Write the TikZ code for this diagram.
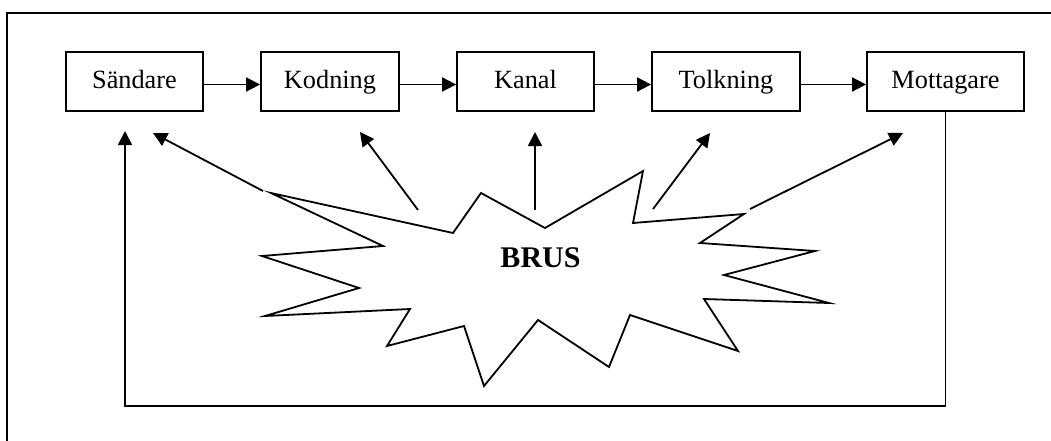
\documentclass[tikz,border=0pt]{standalone}
\usepackage{fontspec}
\setmainfont{Liberation Serif}
\usetikzlibrary{arrows.meta}

\tikzset{
  stage/.style={draw, line width=1.8pt, rectangle, minimum height=59pt, inner sep=0pt,
    text height=20pt, text depth=5pt, font=\fontsize{26.3}{30}\selectfont},
  link/.style={line width=1.8pt, -{Triangle[length=14pt,width=14pt]}},
  burst/.style={line width=1.8pt, line join=miter},
  frame/.style={line width=1.8pt}
}

\begin{document}
\begin{tikzpicture}[x=1pt,y=-1pt]
\useasboundingbox (0,0) rectangle (1051,441);

% outer frame: top and left edges only
\draw[frame] (1051,13) -- (7,13) -- (7,441);

% the chain of stages
\node[stage, minimum width=137pt] (snd) at (134.5,81.5) {Sändare};
\node[stage, minimum width=138pt] (kod) at (330,81.5) {Kodning};
\node[stage, minimum width=137pt] (kan) at (525.5,81.5) {Kanal};
\node[stage, minimum width=148pt] (tol) at (726,81.5) {Tolkning};
\node[stage, minimum width=157pt] (mot) at (945.5,81.5) {Mottagare};

\foreach \a/\b in {snd/kod, kod/kan, kan/tol, tol/mot}
  \draw[link] ([yshift=-3pt]\a.east) -- ([yshift=-3pt]\b.west);

% the noise burst
\draw[burst] (271,193) -- (453,233) -- (481,193) -- (545,228) -- (643,171)
  -- (633,223) -- (744,214) -- (700,243) -- (815,251) -- (724,275)
  -- (829,303) -- (704,299) -- (738,351) -- (630,315) -- (609,367)
  -- (538,320) -- (484,386) -- (464,326) -- (387,346) -- (410,309)
  -- (265,316) -- (359,288) -- (262,256) -- (383,246) -- cycle;
\node[font=\fontsize{30}{34}\bfseries\selectfont] (brus) at (540.5,258) {BRUS};

% noise reaching each stage
\coordinate (n1) at (263,191); \coordinate (t1) at (153,133);
\coordinate (n2) at (418,210); \coordinate (t2) at (360,132);
\coordinate (n3) at (535,210); \coordinate (t3) at (535,132);
\coordinate (n4) at (653,209); \coordinate (t4) at (710,133);
\coordinate (n5) at (750,209); \coordinate (t5) at (903,133);
\foreach \i in {1,...,5}
  \draw[link] (n\i) -- (t\i);

% feedback from receiver back to sender
\coordinate (fb) at (125,131);
\draw[link] (mot.south) -- (mot.south |- 0,406) -- (fb |- 0,406) -- (fb);
\end{tikzpicture}
\end{document}
